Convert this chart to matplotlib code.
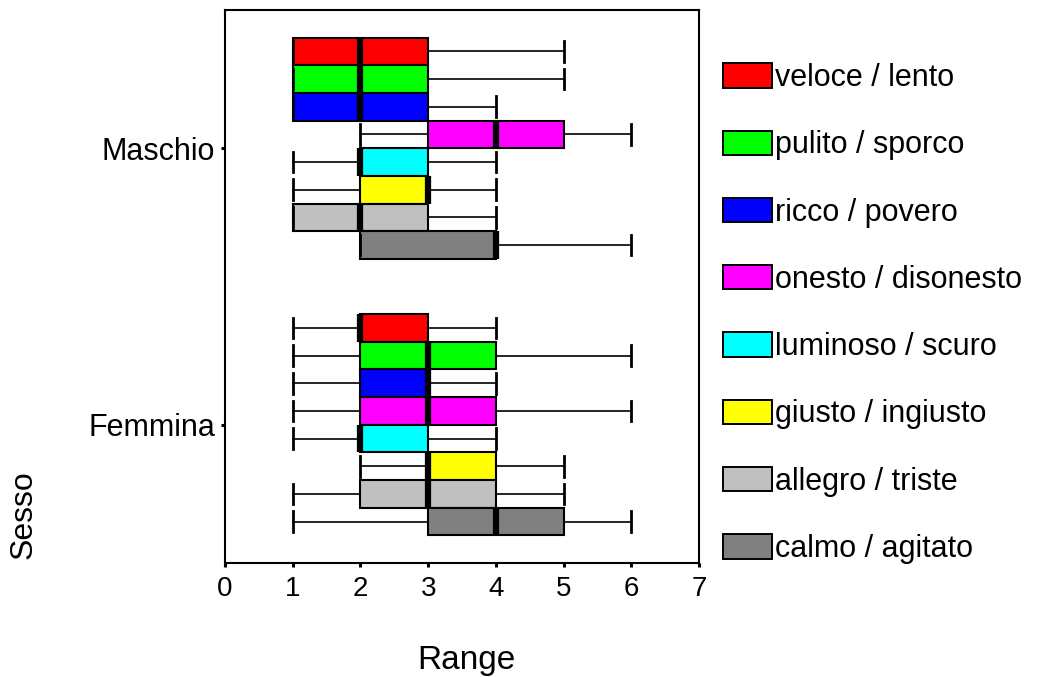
import matplotlib
matplotlib.use("Agg")
import matplotlib.pyplot as plt
from matplotlib.patches import Patch

plt.rcParams['font.family'] = ['Liberation Sans', 'DejaVu Sans']

# Variables (semantic differential pairs) and their colours
variabili = ["veloce / lento", "pulito / sporco", "ricco / povero", "onesto / disonesto",
             "luminoso / scuro", "giusto / ingiusto", "allegro / triste", "calmo / agitato"]
colori = ["#ff0000", "#00ff00", "#0000ff", "#ff00ff",
          "#00ffff", "#ffff00", "#c0c0c0", "#808080"]

gruppi = ["Femmina", "Maschio"]

# Five-number summaries per variable: min, Q1, median, Q3, max
maschio_min = [1, 1, 1, 2, 1, 1, 1, 2]
maschio_q1 = [1, 1, 1, 3, 2, 2, 1, 2]
maschio_med = [2, 2, 2, 4, 2, 3, 2, 4]
maschio_q3 = [3, 3, 3, 5, 3, 3, 3, 4]
maschio_max = [5, 5, 4, 6, 4, 4, 4, 6]

femmina_min = [1, 1, 1, 1, 1, 2, 1, 1]
femmina_q1 = [2, 2, 2, 2, 2, 3, 2, 3]
femmina_med = [2, 3, 3, 3, 2, 3, 3, 4]
femmina_q3 = [3, 4, 3, 4, 3, 4, 4, 5]
femmina_max = [4, 6, 4, 6, 4, 5, 5, 6]

fig = plt.figure(figsize=(10.62, 6.77), dpi=100)
ax = fig.add_axes([225 / 1062, 1 - 563 / 677, 474 / 1062, 553 / 677])

dati = {
    "Maschio": (maschio_min, maschio_q1, maschio_med, maschio_q3, maschio_max),
    "Femmina": (femmina_min, femmina_q1, femmina_med, femmina_q3, femmina_max),
}

larghezza = 0.1
for g, nome in enumerate(gruppi):
    mn, q1, med, q3, mx = dati[nome]
    for i in range(len(variabili)):
        pos = g + (3.5 - i) * larghezza
        stats = [dict(whislo=mn[i], q1=q1[i], med=med[i], q3=q3[i], whishi=mx[i], fliers=[])]
        ax.bxp(stats, positions=[pos], widths=larghezza, capwidths=0.075,
               orientation='horizontal', patch_artist=True, showfliers=False,
               boxprops=dict(facecolor=colori[i], edgecolor='black', linewidth=1.5),
               medianprops=dict(color='black', linewidth=4.5, solid_capstyle='butt'),
               whiskerprops=dict(color='black', linewidth=1.2),
               capprops=dict(color='black', linewidth=2))

ax.set_xlim(0, 7)
ax.set_ylim(-0.5, 1.5)
ax.set_xticks(range(8))
ax.set_yticks([0, 1])
ax.set_yticklabels(gruppi)
ax.tick_params(axis='x', direction='out', length=3, width=2.2, labelsize=20, pad=6)
ax.tick_params(axis='y', direction='out', length=3, width=2.2, labelsize=22, pad=4)
for s in ax.spines.values():
    s.set_linewidth(1.5)

fig.text(466 / 1062, 1 - 660 / 677, "Range", ha='center', va='center', fontsize=24)
fig.text(24 / 1062, 1 - 515 / 677, "Sesso", ha='center', va='center', fontsize=23, rotation=90)

maniglie = [Patch(facecolor=c, edgecolor='black', linewidth=1.4) for c in colori]
fig.legend(maniglie, variabili, loc='upper left', bbox_to_anchor=(723 / 1062, 1 - 63 / 677),
           frameon=False, fontsize=22, handlelength=1.6, handleheight=0.85,
           handletextpad=0.1, labelspacing=1.22, borderpad=0, borderaxespad=0)

fig.savefig("out.png", dpi=100)
